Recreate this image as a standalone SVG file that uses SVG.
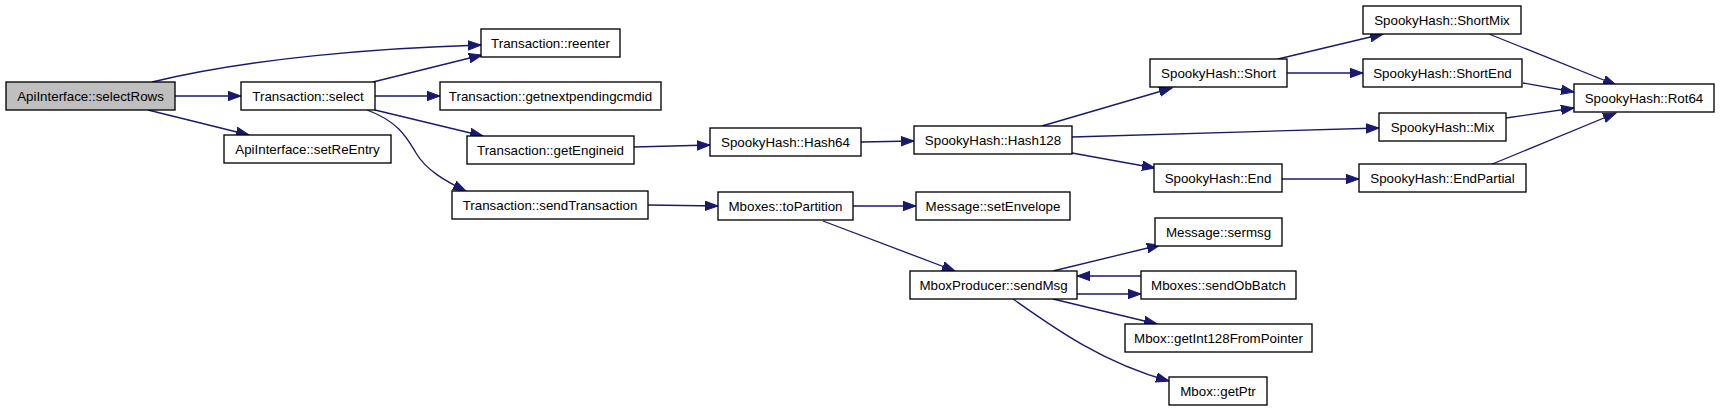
<svg xmlns="http://www.w3.org/2000/svg" width="1720" height="412" viewBox="0 0 1720 412">
<style>
.node rect{fill:#fff;stroke:#000;stroke-width:1.33}
.node.root rect{fill:#bfbfbf}
.node text{font-family:"Liberation Sans",Arial,sans-serif;font-size:13.33px;text-anchor:middle;fill:#000}
#edges path{fill:none;stroke:#191970;stroke-width:1.33;marker-end:url(#arr)}
</style>
<defs>
<marker id="arr" markerUnits="userSpaceOnUse" markerWidth="16" markerHeight="12" refX="13" refY="5" orient="auto">
<path d="M0,0.3 L13,5 L0,9.7 z" fill="#191970" stroke="#191970" stroke-width="1"/>
</marker>
</defs>
<rect width="1720" height="412" fill="#fff"/>
<g id="edges">
<path d="M152,82 C250,58 380,48 481,45"/>
<path d="M175,96 L241,96"/>
<path d="M148,110 L249,135"/>
<path d="M373,82 L482,55"/>
<path d="M375,96 L440,96"/>
<path d="M375,110 L483,136"/>
<path d="M367,110 C400,122 408,140 416,153 C426,170 445,181 466,191"/>
<path d="M634,147 L710,145"/>
<path d="M648,205 L718,206"/>
<path d="M861,142 L914,141"/>
<path d="M1042,126 L1172,88"/>
<path d="M1072,137 L1379,128"/>
<path d="M1072,153 L1155,168"/>
<path d="M853,206 L916,206"/>
<path d="M823,221 L955,271"/>
<path d="M1278,59 L1383,34"/>
<path d="M1287,73 L1363,73"/>
<path d="M1282,179 L1359,179"/>
<path d="M1489,34 L1616,85"/>
<path d="M1523,83 L1574,92"/>
<path d="M1506,118 L1574,108"/>
<path d="M1490,165 L1616,113"/>
<path d="M1053,271 L1160,245"/>
<path d="M1141,276 L1077,276"/>
<path d="M1077,294 L1141,294"/>
<path d="M1053,299 L1157,324"/>
<path d="M1013,299 C1050,325 1100,362 1169,381"/>
</g>
<g id="selectRows" class="node root"><rect x="6" y="82" width="169" height="28"/><text x="90.5" y="100.5">ApiInterface::selectRows</text></g>
<g id="select" class="node"><rect x="241" y="82" width="134" height="28"/><text x="308" y="100.5">Transaction::select</text></g>
<g id="setReEntry" class="node"><rect x="224" y="135" width="167" height="28"/><text x="307.5" y="153.5">ApiInterface::setReEntry</text></g>
<g id="reenter" class="node"><rect x="481" y="29" width="139" height="28"/><text x="550.5" y="47.5">Transaction::reenter</text></g>
<g id="getnextpendingcmdid" class="node"><rect x="440" y="82" width="221" height="28"/><text x="550.5" y="100.5">Transaction::getnextpendingcmdid</text></g>
<g id="getEngineid" class="node"><rect x="467" y="136" width="167" height="28"/><text x="550.5" y="154.5">Transaction::getEngineid</text></g>
<g id="sendTransaction" class="node"><rect x="452" y="191" width="196" height="28"/><text x="550" y="209.5">Transaction::sendTransaction</text></g>
<g id="toPartition" class="node"><rect x="718" y="192" width="135" height="28"/><text x="785.5" y="210.5">Mboxes::toPartition</text></g>
<g id="Hash64" class="node"><rect x="710" y="128" width="151" height="28"/><text x="785.5" y="146.5">SpookyHash::Hash64</text></g>
<g id="Hash128" class="node"><rect x="914" y="126" width="158" height="28"/><text x="993" y="144.5">SpookyHash::Hash128</text></g>
<g id="setEnvelope" class="node"><rect x="916" y="192" width="154" height="28"/><text x="993" y="210.5">Message::setEnvelope</text></g>
<g id="sendMsg" class="node"><rect x="910" y="271" width="167" height="28"/><text x="993.5" y="289.5">MboxProducer::sendMsg</text></g>
<g id="sermsg" class="node"><rect x="1155" y="218" width="127" height="28"/><text x="1218.5" y="236.5">Message::sermsg</text></g>
<g id="sendObBatch" class="node"><rect x="1141" y="271" width="155" height="28"/><text x="1218.5" y="289.5">Mboxes::sendObBatch</text></g>
<g id="getInt128FromPointer" class="node"><rect x="1125" y="324" width="187" height="28"/><text x="1218.5" y="342.5">Mbox::getInt128FromPointer</text></g>
<g id="getPtr" class="node"><rect x="1169" y="377" width="98" height="28"/><text x="1218" y="395.5">Mbox::getPtr</text></g>
<g id="ShortMix" class="node"><rect x="1363" y="6" width="158" height="28"/><text x="1442" y="24.5">SpookyHash::ShortMix</text></g>
<g id="Short" class="node"><rect x="1150" y="59" width="137" height="28"/><text x="1218.5" y="77.5">SpookyHash::Short</text></g>
<g id="ShortEnd" class="node"><rect x="1363" y="59" width="159" height="28"/><text x="1442.5" y="77.5">SpookyHash::ShortEnd</text></g>
<g id="Mix" class="node"><rect x="1379" y="113" width="127" height="28"/><text x="1442.5" y="131.5">SpookyHash::Mix</text></g>
<g id="End" class="node"><rect x="1154" y="164" width="128" height="28"/><text x="1218" y="182.5">SpookyHash::End</text></g>
<g id="EndPartial" class="node"><rect x="1359" y="164" width="167" height="28"/><text x="1442.5" y="182.5">SpookyHash::EndPartial</text></g>
<g id="Rot64" class="node"><rect x="1574" y="84" width="140" height="28"/><text x="1644" y="102.5">SpookyHash::Rot64</text></g>
</svg>
